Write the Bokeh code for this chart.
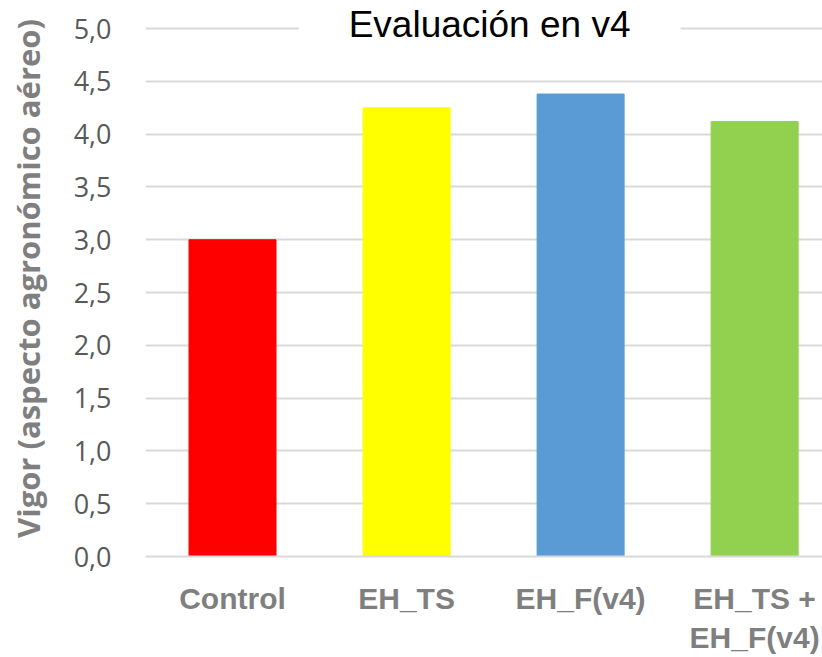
from bokeh.plotting import figure
from bokeh.models import ColumnDataSource, Range1d, FixedTicker, Label, BoxAnnotation
from bokeh.embed import file_html
from bokeh.resources import INLINE

categories = ["Control", "EH_TS", "EH_F(v4)", "EH_TS +\nEH_F(v4)"]
values = [3.0, 4.25, 4.38, 4.12]
colors = ["#FF0000", "#FFFF00", "#5B9BD5", "#92D050"]
y_ticks = [0.0, 0.5, 1.0, 1.5, 2.0, 2.5, 3.0, 3.5, 4.0, 4.5, 5.0]
y_tick_labels = ["0,0", "0,5", "1,0", "1,5", "2,0", "2,5", "3,0", "3,5", "4,0", "4,5", "5,0"]
title_text = "Evaluación en v4"
y_label = "Vigor (aspecto agronómico aéreo)"

x_pos = [i + 0.5 for i in range(len(categories))]
src = ColumnDataSource(dict(x=x_pos, top=values, color=colors))

p = figure(width=822, height=657, output_backend="svg", toolbar_location=None,
           x_range=Range1d(0, 3.89), y_range=Range1d(0, 5.266),
           min_border_left=145, min_border_right=0, min_border_top=0, min_border_bottom=100)
p.outline_line_color = None
p.background_fill_color = "white"
p.border_fill_color = "white"

p.vbar(x="x", top="top", width=0.5, color="color", source=src)

# y axis
p.yaxis.ticker = FixedTicker(ticks=y_ticks)
p.yaxis.major_label_overrides = {t: l for t, l in zip(y_ticks, y_tick_labels)}
p.yaxis.axis_line_color = None
p.yaxis.major_tick_line_color = None
p.yaxis.minor_tick_line_color = None
p.yaxis.major_label_text_font = "Open Sans"
p.yaxis.major_label_text_font_size = "27px"
p.yaxis.major_label_text_color = "#595959"
p.yaxis.major_label_standoff = 28
p.yaxis.axis_label = y_label
p.yaxis.axis_label_text_font = "Open Sans"
p.yaxis.axis_label_text_font_style = "bold"
p.yaxis.axis_label_text_font_size = "31px"
p.yaxis.axis_label_text_color = "#7F7F7F"
p.yaxis.axis_label_standoff = 22

# x axis
p.xaxis.ticker = FixedTicker(ticks=x_pos)
p.xaxis.major_label_overrides = {x: c for x, c in zip(x_pos, categories)}
p.xaxis.axis_line_color = "#D9D9D9"
p.xaxis.axis_line_width = 2
p.xaxis.major_tick_line_color = None
p.xaxis.minor_tick_line_color = None
p.xaxis.major_label_text_font = "Liberation Sans"
p.xaxis.major_label_text_font_style = "bold"
p.xaxis.major_label_text_font_size = "30px"
p.xaxis.major_label_text_color = "#7F7F7F"
p.xaxis.major_label_standoff = 19

p.xgrid.grid_line_color = None
p.ygrid.ticker = FixedTicker(ticks=y_ticks)
p.ygrid.grid_line_color = "#D9D9D9"
p.ygrid.grid_line_width = 2

# title over the top gridline
p.add_layout(BoxAnnotation(left=0.88, right=3.075, bottom=4.9, top=5.266,
                           fill_color="white", fill_alpha=1.0, line_color=None))
p.add_layout(Label(x=1.977, y=5.04, text=title_text, text_align="center",
                   text_baseline="middle", text_font="Liberation Sans",
                   text_font_size="37px", text_color="black"))

open("out.html", "w").write(file_html(p, INLINE))
